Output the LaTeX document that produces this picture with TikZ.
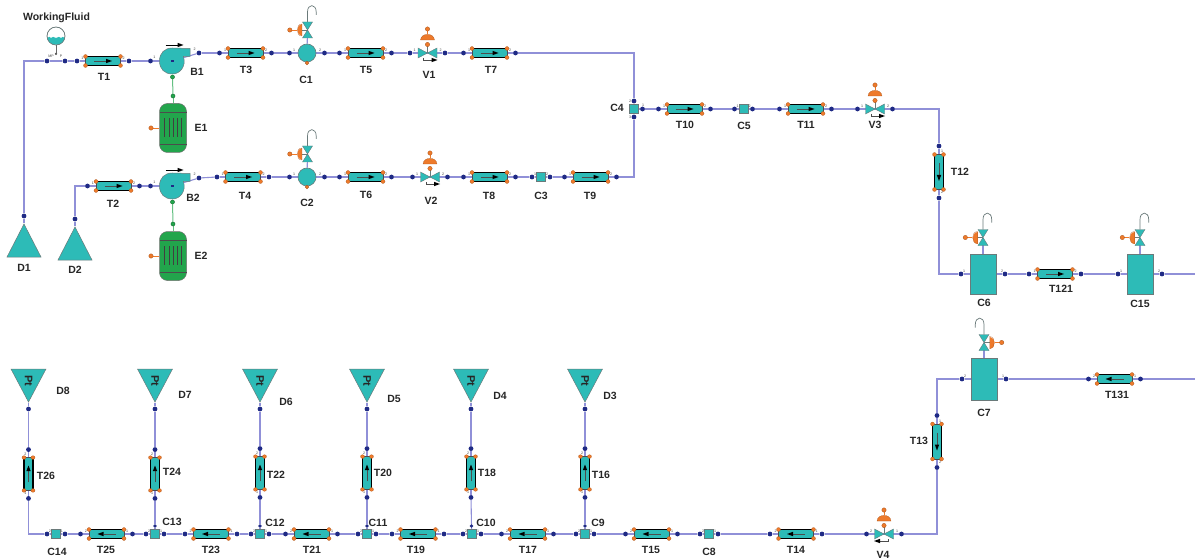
\documentclass[tikz,border=0pt]{standalone}
\usepackage{fontspec}
\setmainfont{Liberation Sans}
\usetikzlibrary{backgrounds}
\definecolor{tealc}{HTML}{2DBBB7}
\definecolor{orangec}{HTML}{EE7A2B}
\definecolor{navyc}{HTML}{1F2A85}
\definecolor{pipec}{HTML}{9090D8}
\definecolor{greenc}{HTML}{22A54C}
\definecolor{edgec}{HTML}{6A7A7A}
\tikzset{
 pipe/.style={draw=pipec,line width=1.1pt},
 greenpipe/.style={draw=greenc!70!white,line width=1pt},
 orangepipe/.style={draw=orangec,line width=.7pt},
 pdot/.style={circle,fill=navyc,inner sep=0pt,minimum size=4.8pt},
 gdot/.style={circle,fill=greenc,draw=greenc!60!black,line width=.3pt,inner sep=0pt,minimum size=4.2pt},
 odot/.style={circle,fill=orangec,draw=orangec!70!black,line width=.3pt,inner sep=0pt,minimum size=4.4pt},
 pnum/.style={font=\fontsize{3.6}{4}\selectfont,text=black!75,inner sep=0pt},
 lab/.style={font=\fontsize{10.5}{12}\selectfont\bfseries,text=black!85,inner sep=0pt},
 tubebody/.style={fill=tealc,draw=black!70,line width=.4pt,inner sep=0pt,minimum width=35pt,minimum height=9pt,transform shape},
 eqbody/.style={fill=tealc,draw=edgec,line width=.6pt,inner sep=0pt},
}
% tube: name, x, y, scope options, label x, label y
\newcommand{\tube}[6]{%
 \begin{scope}[shift={(#2,#3)},#4]
  \node[tubebody] (#1) at (0,0) {};
  \draw[black,line width=1.5pt] (-17.5,-4.5)--(17.5,-4.5) (-17.5,4.5)--(17.5,4.5);
  \draw[black!70,line width=.5pt] (-9,0)--(3,0);
  \fill[black] (3,-2.2)--(9,0)--(3,2.2)--cycle;
  \foreach \sx in {-17.5,17.5} \foreach \sy in {-4.5,4.5}
   \filldraw[fill=orangec,draw=orangec!70!black,line width=.2pt] (\sx,\sy) circle (2pt);
  \node[pdot] (#1a) at (-26,0) {};
  \node[pdot] (#1b) at (26,0) {};
  \node[pnum] (#1an) at (-20.5,-3) {1};
  \node[pnum] (#1bn) at (20.5,-3) {2};
 \end{scope}
 \node[lab] (#1lab) at (#5,#6) {#1};
}
% line valve: name, x, y, scope options, label x, label y
\newcommand{\linevalve}[6]{%
 \begin{scope}[shift={(#2,#3)},#4]
  \coordinate (#1) at (0,0);
  \draw[edgec,line width=.5pt] (0,0)--(0,-9);
  \filldraw[fill=tealc,draw=edgec,line width=.4pt] (-9.5,-5)--(9.5,5)--(9.5,-5)--(-9.5,5)--cycle;
  \draw[black!70,line width=.5pt] (-4,5)--(-4,7)--(4,7);
  \fill[black] (4,4.8)--(10,7)--(4,9.2)--cycle;
  \filldraw[fill=orangec,draw=orangec!70!black,line width=.2pt] (-7,-13)..controls (-6.5,-20.5) and (6.5,-20.5)..(7,-13)--cycle;
  \draw[orangec,line width=.6pt] (0,-19)--(0,-24);
  \node[odot] (#1u) at (0,-8.5) {};
  \node[odot] (#1t) at (0,-24) {};
  \node[pdot] (#1a) at (-17.5,0) {};
  \node[pdot] (#1b) at (17.5,0) {};
  \node[pnum] (#1an) at (-13,-3) {1};
  \node[pnum] (#1bn) at (13,-3) {2};
 \end{scope}
 \node[lab] (#1lab) at (#5,#6) {#1};
}
% vent valve with hook: name, x, y, scope options
\newcommand{\ventvalve}[4]{%
 \begin{scope}[shift={(#2,#3)},#4]
  \coordinate (#1) at (0,0);
  \draw[edgec,line width=.7pt] (0,-8)--(0,-18)..controls (0,-26.5) and (8.7,-26.5)..(8.7,-18)--(8.7,-15);
  \draw[edgec,line width=.6pt] (-6,0)--(0,0);
  \filldraw[fill=tealc,draw=edgec,line width=.4pt] (-5,-8)--(5,8)--(-5,8)--(5,-8)--cycle;
  \filldraw[fill=orangec,draw=orangec!70!black,line width=.2pt] (-5.5,-6)..controls (-12,-6) and (-12,6)..(-5.5,6)--cycle;
  \draw[orangec,line width=.7pt] (-11,0)--(-17.7,0);
  \node[odot] (#1o) at (-17.7,0) {};
 \end{scope}
}
% box component: name, x, y, width, height, dot offset, scope options, label x, label y
\newcommand{\cbox}[9]{%
 \begin{scope}[shift={(#2,#3)},#7]
  \node[eqbody,minimum width=#4pt,minimum height=#5pt] (#1) at (0,0) {};
  \node[pdot] (#1a) at (-#6,0) {};
  \node[pdot] (#1b) at (#6,0) {};
  \node[pnum] (#1an) at (-#6+3,-3) {1};
  \node[pnum] (#1bn) at (#6-3,-3) {2};
 \end{scope}
 \node[lab] (#1lab) at (#8,#9) {#1};
}
% round component: name, x, y, label x, label y
\newcommand{\cround}[5]{%
 \node[eqbody,circle,minimum size=18pt] (#1) at (#2,#3) {};
 \node[odot,minimum size=3.6pt] (#1o) at (#2,#3+10) {};
 \node[pdot] (#1a) at (#2-17.5,#3) {};
 \node[pdot] (#1b) at (#2+17.5,#3) {};
 \node[pnum] (#1an) at (#2-13,#3-3) {1};
 \node[pnum] (#1bn) at (#2+13,#3-3) {2};
 \node[lab] (#1lab) at (#4,#5) {#1};
}
% pump: name, x, y, label x, label y
\newcommand{\pump}[5]{%
 \begin{scope}[shift={(#2,#3)}]
  \filldraw[fill=tealc,draw=edgec,line width=.5pt] (0,-13)--(17.5,-12.5)--(17.5,-4.5)--(11,-4.5)
    ..controls (14,6) and (7,13)..(0,13)..controls (-8,13) and (-13,8)..(-13,0)..controls (-13,-8) and (-8,-13)..(0,-13)--cycle;
  \node[fill=navyc,inner sep=0pt,minimum size=2.4pt] (#1) at (0,0) {};
  \draw[black,line width=.5pt] (-7,-16)--(5,-16);
  \fill[black] (5,-18.2)--(11,-16)--(5,-13.8)--cycle;
  \node[pdot] (#1a) at (-22,0) {};
  \node[pdot] (#1b) at (26.5,-8) {};
  \node[gdot] (#1s) at (0,16) {};
  \node[pnum] (#1an) at (-18,-3.5) {1};
  \node[pnum] (#1bn) at (22,-11.5) {2};
 \end{scope}
 \node[lab] (#1lab) at (#4,#5) {#1};
}
% motor: name, x, y, label x
\newcommand{\motor}[4]{%
 \begin{scope}[shift={(#2,#3)}]
  \node[fill=greenc,draw=black!55,line width=.5pt,rounded corners=8pt,inner sep=0pt,minimum width=27pt,minimum height=49pt] (#1) at (0,0) {};
  \draw[black!70,line width=.5pt] (-13.5,-16)--(13.5,-16) (-13.5,16)--(13.5,16);
  \foreach \vx in {-8.5,-4.2,0,4.2,8.5} \draw[black!75,line width=.5pt] (\vx,-10)--(\vx,9);
  \node[gdot] (#1s) at (0,-32) {};
  \node[odot] (#1o) at (-22,0) {};
 \end{scope}
 \node[lab] (#1lab) at (#4,#3) {#1};
}
% Pt sink: name, x, label x, label y
\newcommand{\ptsink}[4]{%
 \begin{scope}[shift={(#2,369)}]
  \node[inner sep=0pt] (#1) at (0,33) {};
  \filldraw[fill=tealc,draw=edgec,line width=.5pt] (-17.5,0)--(17.5,0)--(0,33)--cycle;
  \node[rotate=-90,font=\fontsize{11}{12}\selectfont\bfseries,text=black!85,inner sep=0pt] (#1t) at (0,11.5) {Pt};
  \node[pdot] (#1p) at (0,40) {};
 \end{scope}
 \node[lab] (#1lab) at (#3,#4) {#1};
}
% feed triangle: name, x, apex y, label y
\newcommand{\feed}[4]{%
 \begin{scope}[shift={(#2,#3)}]
  \node[inner sep=0pt] (#1) at (0,0) {};
  \filldraw[fill=tealc,draw=edgec,line width=.5pt] (0,0)--(17,33)--(-17,33)--cycle;
  \node[pdot] (#1p) at (0,-8) {};
 \end{scope}
 \node[lab] (#1lab) at (#2,#4) {#1};
}
\begin{document}
\begin{tikzpicture}[x=1pt,y=-1pt]
\useasboundingbox (0,0) rectangle (1195,559);

\node[lab] (WFlab) at (56.5,18) {WorkingFluid};
\filldraw[fill=white,draw=edgec,line width=.5pt] (56,36) circle (9pt);
\fill[tealc] (47.3,38) ..controls (49,36.5) and (50,36.5) .. (51,38) ..controls (52,36.5) and (54,36.5)..(56,38)..controls (58,36.5) and (60,36.5)..(61,38)..controls (62,36.5) and (63.5,36.5)..(64.7,38)
  ..controls (63.5,47) and (48.5,47)..(47.3,38)--cycle;
\draw[edgec,line width=.5pt] (56,36) circle (9pt);
\node[inner sep=0pt,minimum size=2.5pt,fill=black!70,circle] (WF) at (56,54) {};
\draw[black!60,line width=.6pt] (56,45)--(WF);
\node[pdot] (WFa) at (47,61) {};
\node[pdot] (WFb) at (65,61) {};
\node[pnum] (WFan) at (51,56.5) {MP};
\node[pnum] (WFbn) at (61,56.5) {P};

\feed{D1}{24}{224}{268}
\feed{D2}{75}{227}{270}
\tube{T1}{103}{61}{}{104}{77}
\pump{B1}{172.5}{61}{197}{72}
\motor{E1}{173}{128}{201}
\tube{T3}{245.5}{53}{}{246}{70}
\cround{C1}{307}{53}{306}{80}
\ventvalve{C1V}{307.5}{30}{}
\tube{T5}{365.5}{53}{}{366}{70}
\linevalve{V1}{427.5}{53}{}{429}{75}
\tube{T7}{489.5}{53}{}{491}{70}

\tube{T2}{113.5}{186}{}{113}{204}
\pump{B2}{172.5}{186}{193}{198}
\motor{E2}{173}{256}{201}
\tube{T4}{243}{177}{}{245}{196}
\cround{C2}{307}{177}{307}{203}
\ventvalve{C2V}{307.5}{154}{}
\tube{T6}{365.5}{177}{}{366}{195}
\linevalve{V2}{430}{177}{}{431}{201}
\tube{T8}{489.5}{177}{}{489}{196}
\cbox{C3}{541}{177}{9}{9}{9}{}{541}{196}
\tube{T9}{590.5}{177}{}{590}{196}

\node[eqbody,minimum size=9pt] (C4) at (634,109) {};
\node[pdot] (C4t) at (634,101) {};
\node[pdot] (C4d) at (634,117) {};
\node[pdot] (C4r) at (642.5,109) {};
\node[lab] (C4lab) at (617,108) {C4};
\node[pnum] (C4tn) at (630,101) {2};
\node[pnum] (C4dn) at (630,117) {3};
\node[pnum] (C4rn) at (643,105.5) {1};
\tube{T10}{684.5}{109}{}{685}{125}
\cbox{C5}{743.5}{109}{9}{9}{9}{}{744}{126}
\tube{T11}{805.5}{109}{}{806}{125}
\linevalve{V3}{875}{109}{}{875}{125}
\tube{T12}{939}{172}{rotate=-90}{960}{172}

\cbox{C6}{983}{274}{26}{40}{22}{}{984}{303}
\ventvalve{C6V}{983}{237.5}{}
\tube{T121}{1055}{274}{}{1061}{289}
\cbox{C15}{1140}{274}{26}{40}{22}{}{1140}{304}
\ventvalve{C15V}{1140}{237.5}{}
\coordinate (endA) at (1195,274);

\cbox{C7}{984}{379}{26}{42}{22}{xscale=-1}{984}{413}
\ventvalve{C7V}{984}{342.5}{xscale=-1}
\tube{T131}{1114.5}{379}{xscale=-1}{1117}{395}
\coordinate (endB) at (1195,379);

\tube{T13}{937}{441.5}{rotate=-90}{919}{441}
\linevalve{V4}{884}{534}{xscale=-1}{883}{555}
\tube{T14}{796}{534}{xscale=-1}{796}{550}
\cbox{C8}{709}{534}{9}{9}{9}{xscale=-1}{709}{552}
\tube{T15}{651.5}{534}{xscale=-1}{651}{550}
\cbox{C9}{585}{534}{9}{9}{9}{xscale=-1}{598}{523}
\tube{T17}{527.5}{534}{xscale=-1}{528}{550}
\cbox{C10}{472}{534}{9}{9}{9}{xscale=-1}{486}{523}
\tube{T19}{418}{534}{xscale=-1}{416}{550}
\cbox{C11}{367}{534}{9}{9}{9}{xscale=-1}{378}{523}
\tube{T21}{311.5}{534}{xscale=-1}{312}{550}
\cbox{C12}{260}{534}{9}{9}{9}{xscale=-1}{275}{523}
\tube{T23}{211}{534}{xscale=-1}{211}{550}
\cbox{C13}{155}{534}{9}{9}{9}{xscale=-1}{172}{522}
\tube{T25}{106.5}{534}{xscale=-1}{106}{550}
\cbox{C14}{56}{534}{9}{9}{9}{xscale=-1}{57}{552}

\foreach \n/\x in {C9/585,C10/471.5,C11/367,C12/260,C13/155}
  \node[pdot,minimum size=3.6pt] (\n t) at (\x,526) {};

\tube{T16}{585}{473}{rotate=90,xscale=.94}{601}{475}
\tube{T18}{471}{473}{rotate=90,xscale=.94}{487}{473}
\tube{T20}{367}{473}{rotate=90,xscale=.94}{383}{473}
\tube{T22}{260}{473}{rotate=90,xscale=.94}{276}{475}
\tube{T24}{155}{474}{rotate=90,xscale=.94}{172}{472}
\tube{T26}{28.5}{474}{rotate=90,xscale=.94}{46}{476}

\ptsink{D3}{585}{610}{396}
\ptsink{D4}{471}{500}{396}
\ptsink{D5}{367}{394}{399}
\ptsink{D6}{260}{286}{402}
\ptsink{D7}{155}{185}{395}
\ptsink{D8}{28.5}{63}{391}

\begin{scope}[on background layer]
 \foreach \a/\b in {
   WFa/WFb,WFb/T1a,T1a/T1b,T1b/B1a,B1a/B1,B1/B1b,B1b/T3a,T3a/T3b,T3b/C1a,C1a/C1b,C1b/T5a,T5a/T5b,T5b/V1a,V1a/V1b,V1b/T7a,T7a/T7b,
   T2a/T2b,T2b/B2a,B2a/B2,B2/B2b,B2b/T4a,T4a/T4b,T4b/C2a,C2a/C2b,C2b/T6a,T6a/T6b,T6b/V2a,V2a/V2b,V2b/T8a,T8a/T8b,T8b/C3a,C3a/C3b,C3b/T9a,T9a/T9b,
   C4t/C4d,C4/C4r,C4r/T10a,T10a/T10b,T10b/C5a,C5a/C5b,C5b/T11a,T11a/T11b,T11b/V3a,V3a/V3b,T12a/T12b,
   C6a/C6b,C6b/T121a,T121a/T121b,T121b/C15a,C15a/C15b,C15b/endA,
   C1/C1V,C2/C2V,C6/C6V,C15/C15V,C7/C7V,
   endB/T131b,T131b/T131a,T131a/C7a,C7a/C7b,T13a/T13b,
   V4a/V4b,V4b/T14a,T14a/T14b,T14b/C8a,C8a/C8b,C8b/T15a,T15a/T15b,T15b/C9a,C9a/C9b,C9b/T17a,T17a/T17b,T17b/C10a,C10a/C10b,C10b/T19a,T19a/T19b,T19b/C11a,C11a/C11b,C11b/T21a,T21a/T21b,T21b/C12a,C12a/C12b,C12b/T23a,T23a/T23b,T23b/C13a,C13a/C13b,C13b/T25a,T25a/T25b,T25b/C14a,C14a/C14b,
   C9/C9t,C9t/T16a,T16a/T16b,T16b/D3p,D3p/D3,
   C10/C10t,C10t/T18a,T18a/T18b,T18b/D4p,D4p/D4,
   C11/C11t,C11t/T20a,T20a/T20b,T20b/D5p,D5p/D5,
   C12/C12t,C12t/T22a,T22a/T22b,T22b/D6p,D6p/D6,
   C13/C13t,C13t/T24a,T24a/T24b,T24b/D7p,D7p/D7,
   T26a/T26b,T26b/D8p,D8p/D8,D1p/D1,D2p/D2}
  \draw[pipe] (\a) -- (\b);
 \draw[pipe] (D1p) |- (WFa);
 \draw[pipe] (D2p) |- (T2a);
 \draw[pipe] (T7b) -| (C4t);
 \draw[pipe] (T9b) -| (C4d);
 \draw[pipe] (V3b) -| (T12a);
 \draw[pipe] (T12b) |- (C6a);
 \draw[pipe] (C7b) -| (T13a);
 \draw[pipe] (T13b) |- (V4a);
 \draw[pipe] (C14b) -| (T26a);
 \draw[greenpipe] (B1s) -- (E1s);
 \draw[greenpipe] (E1s) -- (E1);
 \draw[greenpipe] (B2s) -- (E2s);
 \draw[greenpipe] (E2s) -- (E2);
 \draw[orangepipe] (E1o) -- (E1);
 \draw[orangepipe] (E2o) -- (E2);
\end{scope}
\end{tikzpicture}
\end{document}
